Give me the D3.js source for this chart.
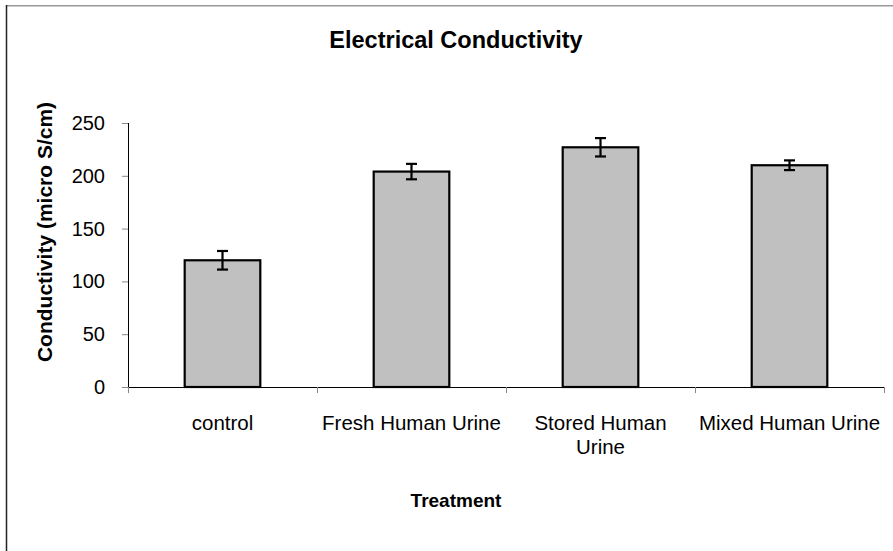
<!DOCTYPE html>
<html>
<head>
<meta charset="utf-8">
<script src="https://cdn.jsdelivr.net/npm/d3@7"></script>
<style>
  html, body { margin: 0; padding: 0; background: #fff; }
  svg { display: block; font-family: "Liberation Sans", Arial, sans-serif; }
</style>
</head>
<body>
<svg id="chart" width="893" height="551"></svg>
<script>
// Treatments, mean conductivity and error half-widths
const categories = ["control", "Fresh Human Urine", "Stored Human Urine", "Mixed Human Urine"];
const categoryLines = [["control"], ["Fresh Human Urine"], ["Stored Human", "Urine"], ["Mixed Human Urine"]];
const values = [120, 204, 227, 210];
const errors = [8.8, 7.3, 8.7, 4.6];
const yTicks = [0, 50, 100, 150, 200, 250];

const svg = d3.select("#chart");
const W = 893, H = 551;
const plot = { left: 128, right: 884, top: 123, bottom: 387 };

// Outer frame (top and left edges)
svg.append("line").attr("x1", 6).attr("x2", W).attr("y1", 5.8).attr("y2", 5.8)
  .attr("stroke", "#999").attr("stroke-width", 1.5);
svg.append("line").attr("x1", 6.5).attr("x2", 6.5).attr("y1", 5).attr("y2", H)
  .attr("stroke", "#222").attr("stroke-width", 1.5);

const x = d3.scaleBand().domain(categories).range([plot.left, plot.right]).paddingInner(0).paddingOuter(0);
const y = d3.scaleLinear().domain([0, 250]).range([plot.bottom, plot.top]);

// Title
svg.append("text").attr("x", 456).attr("y", 48).attr("text-anchor", "middle")
  .attr("font-size", 23.5).attr("font-weight", "bold").text("Electrical Conductivity");

// Y axis
const yAxis = svg.append("g").attr("transform", `translate(${plot.left},0)`)
  .call(d3.axisLeft(y).tickValues(yTicks).tickSize(6).tickPadding(17).tickFormat(d3.format("d")));
yAxis.select(".domain").attr("stroke", "#000").attr("d", `M0.5,${plot.top}V${plot.bottom}`);
yAxis.selectAll(".tick line").attr("stroke", "#888");
yAxis.selectAll(".tick text").attr("font-size", 20).attr("fill", "#000")
  .attr("font-family", "'Liberation Sans', Arial, sans-serif");

// Bars
const barW = x.bandwidth() * 0.4;
svg.append("g").selectAll("rect").data(categories).join("rect")
  .attr("x", (d) => x(d) + (x.bandwidth() - barW) / 2)
  .attr("y", (d, i) => y(values[i]))
  .attr("width", barW)
  .attr("height", (d, i) => y(0) - y(values[i]))
  .attr("fill", "#c0c0c0").attr("stroke", "#000").attr("stroke-width", 2.2);

// Error bars
const eg = svg.append("g").attr("stroke", "#000").attr("stroke-width", 2.2);
categories.forEach((c, i) => {
  const cx = x(c) + x.bandwidth() / 2;
  const y1 = y(values[i] + errors[i]), y2 = y(values[i] - errors[i]);
  eg.append("line").attr("x1", cx).attr("x2", cx).attr("y1", y1).attr("y2", y2);
  eg.append("line").attr("x1", cx - 5.5).attr("x2", cx + 5.5).attr("y1", y1).attr("y2", y1);
  eg.append("line").attr("x1", cx - 5.5).attr("x2", cx + 5.5).attr("y1", y2).attr("y2", y2);
});

// X axis
const xAxis = svg.append("g").attr("transform", `translate(0,${plot.bottom})`);
xAxis.append("line").attr("x1", plot.left).attr("x2", plot.right).attr("y1", 0.5).attr("y2", 0.5)
  .attr("stroke", "#000");
const boundaries = categories.map((c) => x(c)).concat([plot.right]);
xAxis.selectAll("line.tick").data(boundaries).join("line").attr("class", "tick")
  .attr("x1", (d) => d + 0.5).attr("x2", (d) => d + 0.5).attr("y1", 0).attr("y2", 6)
  .attr("stroke", "#888");
categories.forEach((c, i) => {
  const t = xAxis.append("text").attr("x", x(c) + x.bandwidth() / 2).attr("y", 43)
    .attr("text-anchor", "middle").attr("font-size", 20.5).attr("fill", "#000");
  categoryLines[i].forEach((line, k) => {
    t.append("tspan").attr("x", x(c) + x.bandwidth() / 2).attr("dy", k === 0 ? 0 : 24).text(line);
  });
});

// Axis titles
svg.append("text").attr("x", 456).attr("y", 507).attr("text-anchor", "middle")
  .attr("font-size", 19).attr("font-weight", "bold").text("Treatment");
svg.append("text").attr("transform", "translate(52,232) rotate(-90)").attr("text-anchor", "middle")
  .attr("font-size", 21).attr("font-weight", "bold").text("Conductivity (micro S/cm)");
</script>
</body>
</html>
